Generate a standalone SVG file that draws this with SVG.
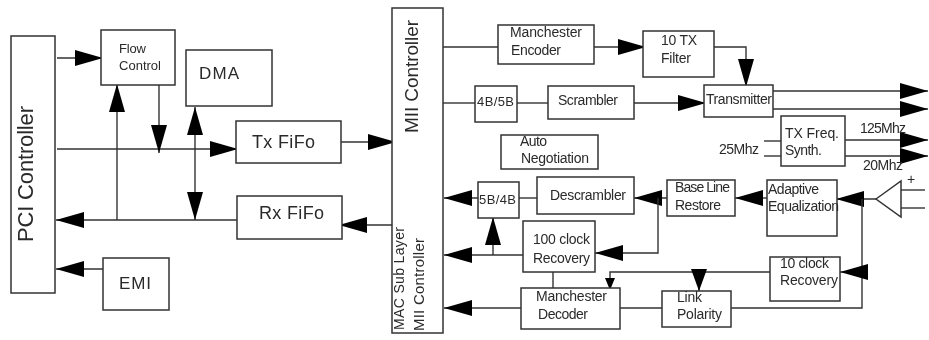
<svg xmlns="http://www.w3.org/2000/svg" width="929" height="340" viewBox="0 0 929 340">
<style>
.b{fill:#fff;stroke:#333;stroke-width:1.5}
text{font-family:"Liberation Sans",Arial,sans-serif;fill:#2a2a2a;font-size:14px}
.c line,.c polyline{fill:none;stroke:#333;stroke-width:1.4}
.h{fill:#000}
</style>
<defs>
<marker id="a" markerUnits="userSpaceOnUse" markerWidth="30" markerHeight="18" refX="28" refY="8" orient="auto-start-reverse"><polygon class="h" points="0,0 28,8 0,16"/></marker>
<marker id="m" markerUnits="userSpaceOnUse" markerWidth="24" markerHeight="18" refX="22" refY="8" orient="auto"><polygon class="h" points="0,0 22,8 0,16"/></marker>
<marker id="s" markerUnits="userSpaceOnUse" markerWidth="14" markerHeight="12" refX="12" refY="5" orient="auto"><polygon class="h" points="0,0 12,5 0,10"/></marker>
<filter id="f" filterUnits="userSpaceOnUse" x="0" y="0" width="929" height="340"><feGaussianBlur stdDeviation="0.45"/></filter>
</defs>
<g filter="url(#f)">
<g id="connectors" class="c">
<line x1="57" y1="58" x2="103" y2="58" marker-end="url(#a)"/>
<line x1="57" y1="149" x2="238" y2="149" marker-end="url(#a)"/>
<line x1="159" y1="84" x2="159" y2="153" marker-end="url(#a)"/>
<line x1="117" y1="220" x2="117" y2="84" marker-end="url(#a)"/>
<line x1="237" y1="220" x2="56" y2="220" marker-end="url(#a)"/>
<line x1="195" y1="107" x2="195" y2="220" marker-start="url(#a)" marker-end="url(#a)"/>
<line x1="103" y1="269" x2="56" y2="269" marker-end="url(#a)"/>
<line x1="341" y1="142" x2="396" y2="142" marker-end="url(#a)"/>
<line x1="392" y1="225" x2="339" y2="225" marker-end="url(#a)"/>
<line x1="443" y1="47" x2="498" y2="47"/>
<line x1="594" y1="47" x2="646" y2="47" marker-end="url(#a)"/>
<polyline points="714,47 746,47 746,87" marker-end="url(#a)"/>
<line x1="443" y1="103" x2="475" y2="103"/>
<line x1="517" y1="103" x2="548" y2="103"/>
<line x1="634" y1="103" x2="706" y2="103" marker-end="url(#a)"/>
<line x1="773" y1="91" x2="928" y2="91" marker-end="url(#a)"/>
<line x1="773" y1="109" x2="928" y2="109" marker-end="url(#a)"/>
<line x1="764" y1="141" x2="781" y2="141"/>
<line x1="764" y1="156" x2="781" y2="156"/>
<line x1="845" y1="140" x2="928" y2="140" marker-end="url(#a)"/>
<line x1="845" y1="156" x2="928" y2="156" marker-end="url(#a)"/>
<line x1="478" y1="198" x2="444" y2="198" marker-end="url(#a)"/>
<line x1="519" y1="198" x2="537" y2="198"/>
<line x1="667" y1="198" x2="634" y2="198" marker-end="url(#a)"/>
<line x1="767" y1="198" x2="735" y2="198" marker-end="url(#a)"/>
<line x1="876" y1="199" x2="836" y2="199" marker-end="url(#a)"/>
<polyline points="658,198 658,253 595,253" marker-end="url(#a)"/>
<line x1="493" y1="255" x2="493" y2="217" marker-end="url(#a)"/>
<line x1="523" y1="255" x2="444" y2="255" marker-end="url(#a)"/>
<line x1="553" y1="272" x2="553" y2="288"/>
<line x1="521" y1="308" x2="444" y2="308" marker-end="url(#a)"/>
<line x1="620" y1="308" x2="662" y2="308"/>
<polyline points="731,308 862,308 862,199"/>
<line x1="862" y1="272" x2="840" y2="272" marker-end="url(#a)"/>
<polyline points="770,272 610,272 610,290" marker-end="url(#s)"/>
<line x1="699" y1="272" x2="699" y2="291" marker-end="url(#m)"/>
<line x1="901" y1="190" x2="925" y2="190"/>
<line x1="901" y1="208" x2="925" y2="208"/>
</g>
<g id="pci"><rect class="b" x="11" y="36" width="44" height="257"/><text transform="translate(33,242) rotate(-90)" style="font-size:22px" textLength="136">PCI Controller</text></g>
<g id="flow"><rect class="b" x="101" y="30" width="74" height="55"/><text x="119" y="53" style="font-size:13px" textLength="27">Flow</text><text x="119" y="70" style="font-size:13px" textLength="42">Control</text></g>
<g id="dma"><rect class="b" x="186" y="50" width="86" height="56"/><text x="199" y="79" style="font-size:17px" textLength="40">DMA</text></g>
<g id="txfifo"><rect class="b" x="236" y="121" width="105" height="42"/><text x="252" y="148" style="font-size:18px" textLength="63">Tx FiFo</text></g>
<g id="rxfifo"><rect class="b" x="237" y="196" width="105" height="43"/><text x="259" y="219" style="font-size:18px" textLength="65">Rx FiFo</text></g>
<g id="emi"><rect class="b" x="103" y="258" width="66" height="52"/><text x="119" y="289" style="font-size:17px" textLength="32">EMI</text></g>
<g id="mii"><rect class="b" x="392" y="8" width="51" height="325"/><text transform="translate(418,133) rotate(-90)" style="font-size:19px" textLength="113">MII Controller</text><text transform="translate(404,330) rotate(-90)" style="font-size:14px" textLength="103">MAC Sub Layer</text><text transform="translate(424,331) rotate(-90)" style="font-size:15px" textLength="93">MII Controller</text></g>
<g id="manenc"><rect class="b" x="498" y="25" width="96" height="39"/><text x="510" y="37" textLength="72">Manchester</text><text x="511" y="55" textLength="50">Encoder</text></g>
<g id="filter10"><rect class="b" x="643" y="31" width="71" height="46"/><text x="661" y="45" textLength="36">10 TX</text><text x="661" y="63" textLength="30">Filter</text></g>
<g id="b4b5"><rect class="b" x="475" y="86" width="42" height="36"/><text x="477" y="106" style="font-size:13px" textLength="37">4B/5B</text></g>
<g id="scrambler"><rect class="b" x="548" y="86" width="86" height="33"/><text x="558" y="105" textLength="60">Scrambler</text></g>
<g id="transmitter"><rect class="b" x="704" y="85" width="69" height="32"/><text x="706" y="104" textLength="66">Transmitter</text></g>
<g id="txfreq"><rect class="b" x="781" y="116" width="64" height="50"/><text x="785" y="138" textLength="54">TX Freq.</text><text x="785" y="155" textLength="37">Synth.</text></g>
<g id="auto"><rect class="b" x="501" y="135" width="97" height="34"/><text x="520" y="146" textLength="27">Auto</text><text x="521" y="163" textLength="68">Negotiation</text></g>
<g id="b5b4"><rect class="b" x="478" y="182" width="41" height="36"/><text x="479" y="204" style="font-size:13px" textLength="37">5B/4B</text></g>
<g id="descrambler"><rect class="b" x="537" y="177" width="97" height="37"/><text x="550" y="200" textLength="76">Descrambler</text></g>
<g id="baseline"><rect class="b" x="667" y="180" width="68" height="36"/><text x="675" y="192" textLength="55">Base Line</text><text x="675" y="210" textLength="46">Restore</text></g>
<g id="adaptive"><rect class="b" x="767" y="180" width="70" height="56"/><text x="768" y="194" textLength="51">Adaptive</text><text x="768" y="211" textLength="71">Equalization</text></g>
<g id="clock100"><rect class="b" x="523" y="221" width="72" height="51"/><text x="533" y="244" textLength="57">100 clock</text><text x="533" y="263" textLength="57">Recovery</text></g>
<g id="clock10"><rect class="b" x="770" y="257" width="70" height="44"/><text x="780" y="268" textLength="49">10 clock</text><text x="780" y="285" textLength="58">Recovery</text></g>
<g id="mandec"><rect class="b" x="521" y="288" width="99" height="41"/><text x="536" y="301" textLength="71">Manchester</text><text x="538" y="319" textLength="50">Decoder</text></g>
<g id="link"><rect class="b" x="662" y="291" width="69" height="36"/><text x="677" y="302" textLength="25">Link</text><text x="677" y="319" textLength="45">Polarity</text></g>
<g id="amp"><polygon class="b" points="876,199 901,181 901,217"/><text x="907" y="184">+</text></g>
<g id="labels"><text x="719" y="154" textLength="40">25Mhz</text><text x="860" y="133" textLength="46">125Mhz</text><text x="863" y="170" textLength="40">20Mhz</text></g>
</g>
</svg>
